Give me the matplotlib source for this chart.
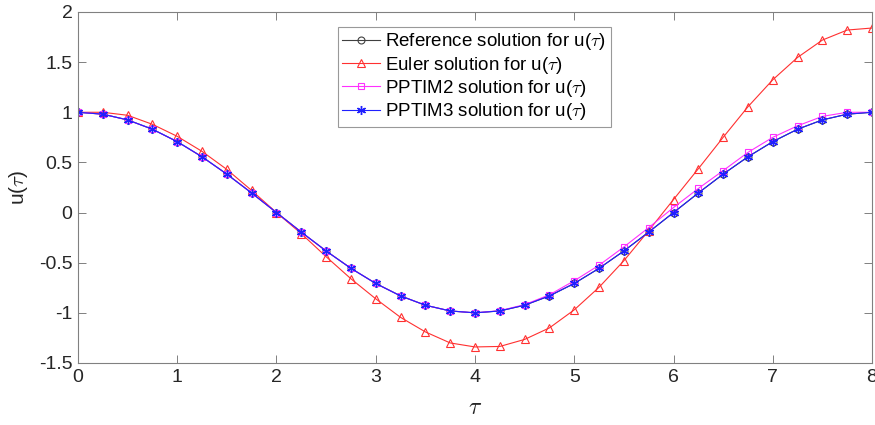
import matplotlib
matplotlib.use("Agg")
import matplotlib.pyplot as plt

plt.rcParams['font.family'] = ['Liberation Sans', 'DejaVu Sans']
plt.rcParams['mathtext.fontset'] = 'cm'

tau = [0, 0.25, 0.5, 0.75, 1, 1.25, 1.5, 1.75, 2, 2.25, 2.5, 2.75, 3, 3.25, 3.5, 3.75, 4,
       4.25, 4.5, 4.75, 5, 5.25, 5.5, 5.75, 6, 6.25, 6.5, 6.75, 7, 7.25, 7.5, 7.75, 8]

u_ref = [1.0, 0.981, 0.924, 0.831, 0.707, 0.556, 0.383, 0.195, 0.0, -0.195, -0.383, -0.556,
         -0.707, -0.831, -0.924, -0.981, -1.0, -0.981, -0.924, -0.831, -0.707, -0.556, -0.383,
         -0.195, 0.0, 0.195, 0.383, 0.556, 0.707, 0.831, 0.924, 0.981, 1.0]

u_euler = [1.0, 1.0, 0.97, 0.88, 0.76, 0.61, 0.43, 0.22, 0.0, -0.21, -0.44, -0.66,
           -0.86, -1.045, -1.19, -1.30, -1.34, -1.335, -1.265, -1.15, -0.97, -0.745, -0.48,
           -0.18, 0.13, 0.437, 0.75, 1.055, 1.324, 1.547, 1.72, 1.82, 1.84]

u_pptim2 = [1.0, 0.981, 0.924, 0.831, 0.707, 0.556, 0.383, 0.195, 0.0, -0.195, -0.383, -0.556,
            -0.707, -0.831, -0.924, -0.981, -1.0, -0.978, -0.918, -0.82, -0.68, -0.525, -0.343,
            -0.15, 0.05, 0.24, 0.418, 0.60, 0.75, 0.865, 0.959, 1.0, 1.0]

u_pptim3 = [1.0, 0.981, 0.924, 0.831, 0.707, 0.556, 0.383, 0.195, 0.0, -0.195, -0.383, -0.556,
            -0.707, -0.831, -0.924, -0.981, -1.0, -0.981, -0.924, -0.831, -0.707, -0.556, -0.383,
            -0.195, 0.0, 0.195, 0.383, 0.556, 0.707, 0.831, 0.924, 0.981, 1.0]

fig = plt.figure(figsize=(8.75, 4.25), dpi=100)
ax = fig.add_axes([0.0891, 0.1459, 0.9075, 0.8259])

ax.plot(tau, u_ref, '-o', color='#404040', lw=0.8, ms=5, mfc='none', mew=0.8,
        label=r'Reference solution for u($\tau$)')
ax.plot(tau, u_euler, '-^', color='#ff3030', lw=0.8, ms=6, mfc='none', mew=0.8,
        label=r'Euler solution for u($\tau$)')
ax.plot(tau, u_pptim2, '-s', color='#ff30ff', lw=0.8, ms=5, mfc='none', mew=0.8,
        label=r'PPTIM2 solution for u($\tau$)')
ax.plot(tau, u_pptim3, '-', color='#2020ff', lw=0.8, marker=(6, 2, 0), ms=6.5, mew=1.0,
        label=r'PPTIM3 solution for u($\tau$)')

ax.set_xlim(0, 8)
ax.set_ylim(-1.5, 2)
ax.set_xticks(range(0, 9))
ax.set_yticks([-1.5, -1, -0.5, 0, 0.5, 1, 1.5, 2])
ax.set_yticklabels(['-1.5', '-1', '-0.5', '0', '0.5', '1', '1.5', '2'])
ax.tick_params(direction='in', top=True, right=True, labelsize=14, labelcolor='#262626',
               color='#808080', length=6, width=0.7, pad=4)
for s in ax.spines.values():
    s.set_color('#808080')
    s.set_linewidth(0.8)

ax.set_xlabel(r'$\tau$', fontsize=17, color='#262626', labelpad=8)
ax.set_ylabel(r'u($\tau$)', fontsize=15, color='#262626', labelpad=6)

leg = ax.legend(loc='upper left', bbox_to_anchor=(0.327, 0.958), fontsize=13.5,
                frameon=True, fancybox=False, edgecolor='#808080', handlelength=2.0,
                borderpad=0.25, labelspacing=0.12, handletextpad=0.3, borderaxespad=0)
leg.get_frame().set_linewidth(0.8)

fig.savefig('out.png', dpi=100)
